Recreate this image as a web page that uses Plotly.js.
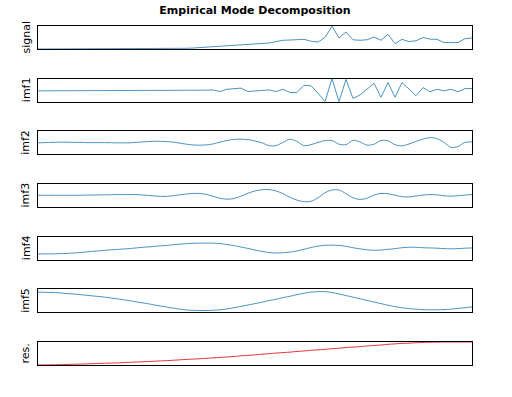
<!DOCTYPE html>
<html><head><meta charset="utf-8">
<script src="https://cdn.plot.ly/plotly-3.0.1.min.js"></script>
<style>html,body{margin:0;padding:0;background:#fff}#plot{width:512px;height:397px}</style>
</head><body><div id="plot"></div>
<script>
const labels = ["signal","imf1","imf2","imf3","imf4","imf5","res."];

const signal = [0,0,0,0,0,0,0,0,0,0,0,0,0,0,0,0,0.5,1,1,1.5,2,3,4,6,8,10,12,14,18,20,22,24,25,26,32,38,39,40,42,34,30,50,99,48,74,40,38,40,52,38,64,23,42,32,36,50,43,42,28,28,28,45,48];
const imf1 = [-3,-3,-3,-3,-3,-3,-3,-3,-3,-3,-3,-3,-3,-3,-3,-3,-3,-3,-3,-3,-3,-3,-3,-3,0,1,-6,4,6,9,-6,-4,-3,1,-6,4,-10,-10,21,19,-13,-50,50,-50,47,-36,-21,5,30,-31,33,-31,33,5,-24,11,-7,4,-3,4,-7,7,7];
const imf2 = [0,1,2,3,3,2,2,1,1,1,1,0,0,0,2,4,6,7,6,4,0,-5,-9,-10,-9,-5,3,10,15,16,14,8,0,-12,-12,2,16,6,-12,-8,2,10,10,-6,-8,11,4,-10,-6,10,9,-8,-13,-5,6,16,23,18,2,-20,-16,2,4];
const imf3 = [1,1,1,1,1,1,1,2,2,3,3,4,4,4,4,2,0,-3,-4,-2,2,6,9,9,5,-3,-12,-16,-13,-3,10,20,25,26,20,8,-8,-20,-27,-25,-10,12,24,24,8,-10,-17,-12,2,9,8,1,-5,-6,-2,2,4,3,-1,-3,-1,2,4];
const imf4 = [-25,-25,-25,-24,-23,-21,-19,-16,-13,-11,-8,-6,-4,-2,1,4,6,9,11,14,17,19,21,22,22,22,20,16,11,5,-1,-8,-14,-19,-21,-20,-17,-12,-5,3,9,13,13,12,8,2,-3,-7,-9,-8,-5,-2,2,4,4,2,1,0,-2,-3,-2,0,1];
const imf5 = [38,37,36,35,32,30,27,24,21,18,14,10,6,1,-4,-9,-14,-20,-25,-30,-35,-39,-41,-42,-42,-41,-39,-35,-30,-24,-18,-12,-6,1,7,14,20,27,33,38,40,40,36,30,23,16,9,2,-5,-12,-19,-25,-30,-34,-36,-38,-39,-39,-38,-36,-33,-30,-26];
const res = [0,0.5,1,1.5,2.5,3,4,5,6,7,8,9,10,11.5,13,14,15.5,17,18.5,20,22,24,25.5,27,29,31,33,35,37,40,42,44,47,49,52,54,56,59,61,64,66,68,71,73,76,78,80,83,85,87,90,92,94,95,97,98,99,99.5,100,100,100,100,100];

const series = [signal, imf1, imf2, imf3, imf4, imf5, res];
const yRanges = [[0,100],[-50,50],[-50,50],[-50,50],[-50,50],[-50,50],[0,100]];
const shapes = ["linear","linear","spline","spline","spline","spline","spline"];

const W = 512, H = 397, mt = 26, mb = 32, ml = 38, mr = 40;
const ph = H - mt - mb, pw = W - ml - mr;
const boxH = 23, step = 52.67;

const traces = [], annotations = [];
const layout = {
  width: W, height: H,
  margin: {l: ml, r: mr, t: mt, b: mb, pad: 0},
  paper_bgcolor: "#fff", plot_bgcolor: "#fff",
  showlegend: false,
  title: {text: "<b>Empirical Mode Decomposition</b>", font: {family: "DejaVu Sans", size: 11, color: "#000"},
          x: 0.5, xref: "paper", y: 1 - 10/H, yref: "container", yanchor: "middle"},
  font: {family: "DejaVu Sans", size: 11, color: "#000"}
};

series.forEach((ys, k) => {
  const xs = ys.map((_, i) => i);
  const sfx = k === 0 ? "" : String(k + 1);
  const off = k * step;
  const dom = [1 - (off + boxH) / ph, 1 - off / ph];
  traces.push({
    x: xs, y: ys, type: "scatter", mode: "lines",
    xaxis: "x" + sfx, yaxis: "y" + sfx,
    line: {color: k === 6 ? "#e8000b" : "#1f77b4", width: 0.8, shape: shapes[k], smoothing: 0.8},
    hoverinfo: "skip"
  });
  const axCommon = {showline: true, mirror: true, linecolor: "#000", linewidth: 1,
    showgrid: false, zeroline: false, ticks: "", showticklabels: false, fixedrange: true};
  layout["xaxis" + sfx] = Object.assign({}, axCommon, {range: [0, ys.length - 1], anchor: "y" + sfx, domain: [0, 1]});
  layout["yaxis" + sfx] = Object.assign({}, axCommon, {range: yRanges[k], anchor: "x" + sfx, domain: dom});
  annotations.push({
    text: labels[k], xref: "paper", yref: "paper",
    x: (26 - ml) / pw, y: (dom[0] + dom[1]) / 2,
    xanchor: "center", yanchor: "middle", textangle: -90, showarrow: false,
    font: {family: "DejaVu Sans", size: 11, color: "#000"}
  });
});
layout.annotations = annotations;

Plotly.newPlot("plot", traces, layout, {staticPlot: true, displayModeBar: false});
</script></body></html>
